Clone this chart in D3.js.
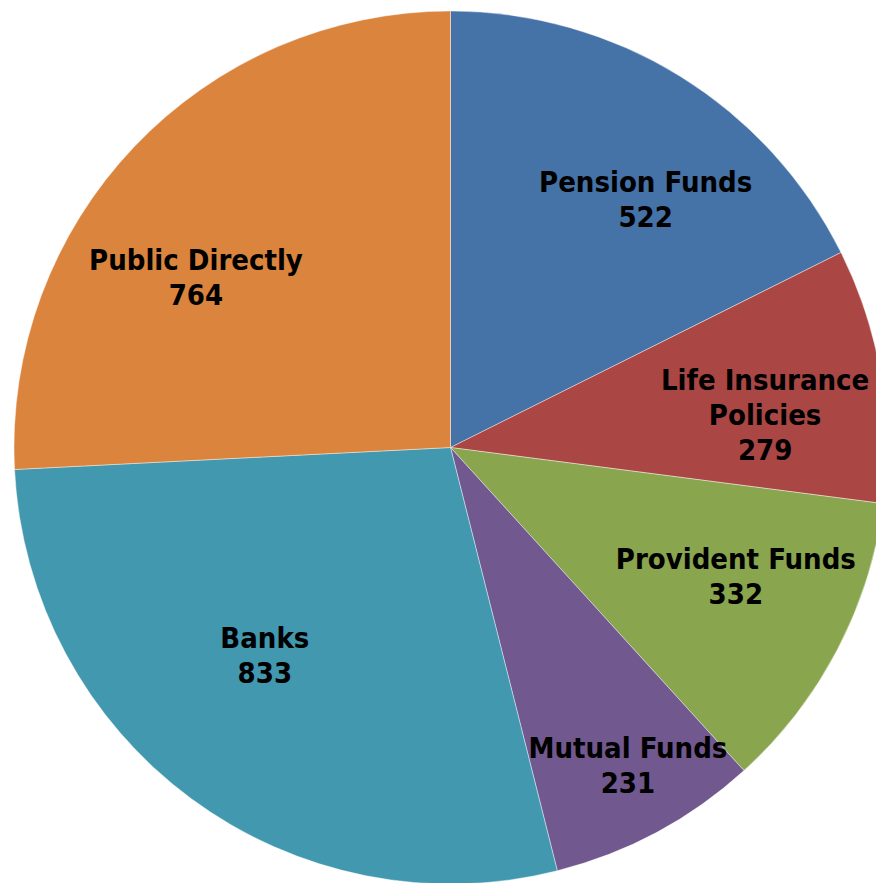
<!DOCTYPE html>
<html>
<head>
<meta charset="utf-8">
<script src="https://cdn.jsdelivr.net/npm/d3@7"></script>
<style>
  body { margin: 0; background: #fff; overflow: hidden; }
  .label {
    font-family: "DejaVu Sans Condensed", "DejaVu Sans", sans-serif;
    font-stretch: condensed;
    font-weight: bold;
    font-size: 29px;
    fill: #000;
  }
</style>
</head>
<body>
<script>
'use strict';

(function() {

  // chart data
  const categories = ["Pension Funds", "Life Insurance Policies", "Provident Funds", "Mutual Funds", "Banks", "Public Directly"];
  const values = [522, 279, 332, 231, 833, 764];
  const colors = ["#4572A7", "#AA4643", "#89A54E", "#71588F", "#4198AF", "#DB843D"];
  // how each label is broken into lines
  const labelLines = [["Pension Funds"], ["Life Insurance", "Policies"], ["Provident Funds"], ["Mutual Funds"], ["Banks"], ["Public Directly"]];

  // label nudges from the centroid (layout only)
  const labelNudge = [[30, 19], [5, 19], [7, -17], [29, 41], [1, -45], [-27, 46]];

  let width = 876;
  let height = 883;
  let cx = 450.5;
  let cy = 447.5;
  let radius = 436.5;
  let lineH = 35;
  let capH = 21;

  let svg = d3.select('body')
    .append('svg')
    .attr('width', width)
    .attr('height', height);

  let data = categories.map((c, i) => ({ name: c, value: values[i], color: colors[i], lines: labelLines[i], nudge: labelNudge[i] }));

  let pie = d3.pie()
    .value(d => d.value)
    .sort(null);

  let arc = d3.arc()
    .innerRadius(0)
    .outerRadius(radius);

  let labelArc = d3.arc()
    .innerRadius(314)
    .outerRadius(314);

  let g = svg.append('g')
    .attr('transform', 'translate(' + cx + ',' + cy + ')');

  let arcs = pie(data);

  g.selectAll('.slice')
    .data(arcs)
    .enter()
    .append('path')
    .attr('class', 'slice')
    .attr('d', arc)
    .attr('fill', d => d.data.color)
    .attr('stroke', '#ffffff')
    .attr('stroke-width', 0.7)
    .attr('stroke-opacity', 0.6);

  let labels = g.selectAll('.label')
    .data(arcs)
    .enter()
    .append('text')
    .attr('class', 'label')
    .attr('text-anchor', 'middle')
    .attr('transform', function(d) {
      let c = labelArc.centroid(d);
      return 'translate(' + (c[0] + d.data.nudge[0]) + ',' + (c[1] + d.data.nudge[1]) + ')';
    });

  labels.each(function(d) {
    let lines = d.data.lines.concat([String(d.data.value)]);
    let top = -(lines.length - 1) * lineH / 2 + capH / 2;
    let t = d3.select(this);
    lines.forEach((ln, i) => {
      t.append('tspan')
        .attr('x', 0)
        .attr('y', top + i * lineH)
        .text(ln);
    });
  });

})();
</script>
</body>
</html>
